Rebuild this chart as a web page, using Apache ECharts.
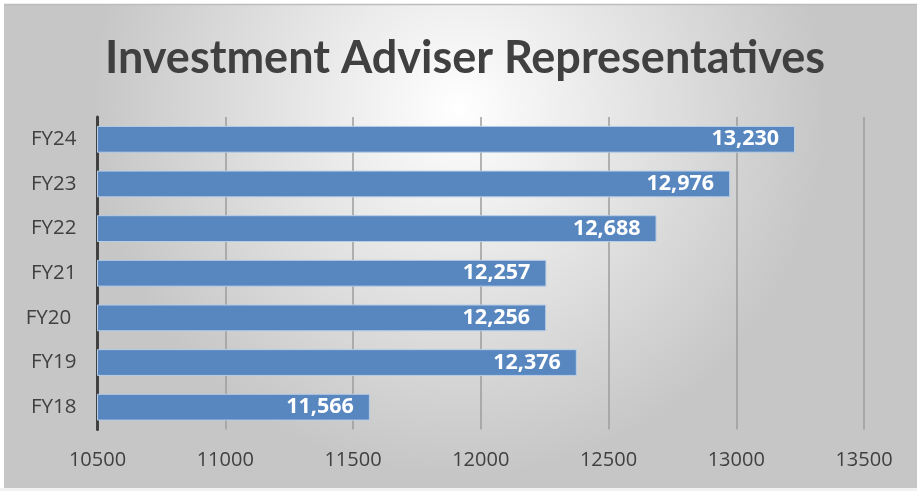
<!DOCTYPE html>
<html>
<head>
<meta charset="utf-8">
<script src="https://cdn.jsdelivr.net/npm/echarts@6/dist/echarts.min.js"></script>
<style>
html,body{margin:0;padding:0;background:#ffffff;}
#c{width:917px;height:491px;}
</style>
</head>
<body>
<div id="c"></div>
<script>
var titleText = 'Investment Adviser Representatives';
var categories = ['FY18', 'FY19', 'FY20 ', 'FY21', 'FY22', 'FY23', 'FY24'];
var values = [11566, 12376, 12256, 12257, 12688, 12976, 13230];
var axisMin = 10500;
var axisMax = 13500;
var axisStep = 500;

var chart = echarts.init(document.getElementById('c'), null, {renderer: 'canvas'});
chart.setOption({
  backgroundColor: {
    type: 'radial', x: 0.5, y: 0.22, r: 0.75,
    colorStops: [
      {offset: 0, color: '#ffffff'},
      {offset: 1, color: '#c6c6c6'}
    ]
  },
  animation: false,
  graphic: [
    {type: 'rect', shape: {x: 0, y: 0, width: 917, height: 4}, style: {fill: '#ffffff'}, silent: true},
    {type: 'rect', shape: {x: 0, y: 0, width: 4, height: 491}, style: {fill: '#ffffff'}, silent: true},
    {type: 'rect', shape: {x: 0, y: 488, width: 917, height: 3}, style: {fill: '#f2f2f2'}, silent: true},
    {type: 'line', shape: {x1: 4, y1: 4.5, x2: 917, y2: 4.5}, style: {stroke: '#bdbdbd', lineWidth: 1.5}, silent: true},
    {type: 'text', x: 465, y: 58, style: {text: titleText, fill: '#404040', font: 'bold 45px Lato', align: 'center', verticalAlign: 'middle'}}
  ],
  grid: {left: 97.5, right: 53, top: 117, bottom: 61.5, containLabel: false},
  xAxis: {
    type: 'value', min: axisMin, max: axisMax, interval: axisStep,
    axisLine: {show: false},
    axisTick: {show: false},
    axisLabel: {color: '#404040', fontSize: 20, fontFamily: 'Open Sans', margin: 21,
      formatter: function (v) { return String(v); }},
    splitLine: {show: true, lineStyle: {color: '#9c9c9c', width: 1.5}}
  },
  yAxis: {
    type: 'category', data: categories,
    axisLine: {show: true, lineStyle: {color: '#404040', width: 3}},
    axisTick: {show: false},
    axisLabel: {color: '#404040', fontSize: 20.5, fontFamily: 'Open Sans', margin: 21}
  },
  series: [{
    type: 'bar', data: values, barCategoryGap: '40%',
    itemStyle: {color: '#5887c0', borderColor: '#b8cde6', borderWidth: 1},
    label: {
      show: true, position: 'insideRight', distance: 16,
      color: '#ffffff', fontSize: 21.5, fontWeight: 'bold', fontFamily: 'Open Sans',
      formatter: function (p) { return p.value.toLocaleString('en-US'); }
    }
  }]
});
</script>
</body>
</html>
